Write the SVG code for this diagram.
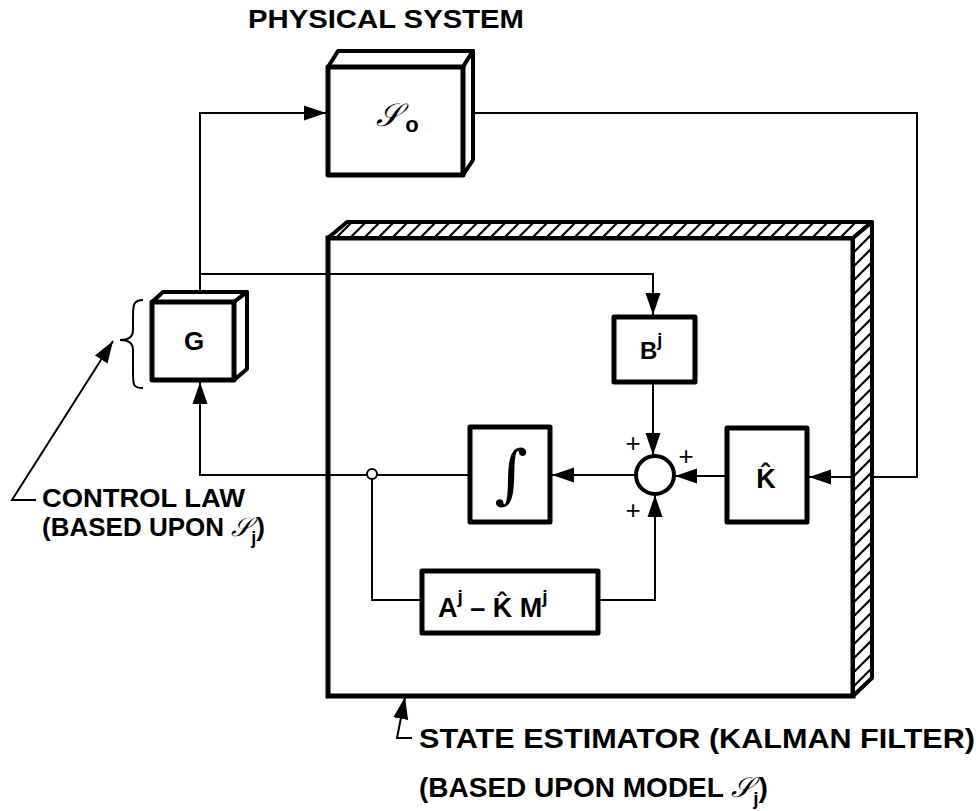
<svg xmlns="http://www.w3.org/2000/svg" width="976" height="811" viewBox="0 0 976 811">
<defs>
<style>
.box{fill:#fff;stroke:#000;stroke-width:5;stroke-linejoin:round}
.face{fill:#fff;stroke:#000;stroke-width:4;stroke-linejoin:round}
.hatch{fill:url(#hp);stroke:#000;stroke-width:4;stroke-linejoin:round}
.ln{fill:none;stroke:#000;stroke-width:2}
.t{font-family:"Liberation Sans",Arial,sans-serif;font-weight:bold;fill:#000}
.s{font-family:"DejaVu Serif","DejaVu Sans","Noto Sans",serif;font-style:italic;fill:#000}
.p{font-family:"Liberation Sans",Arial,sans-serif;font-size:26px;fill:#000;text-anchor:middle}
</style>
<pattern id="hp" patternUnits="userSpaceOnUse" width="14" height="14">
<rect width="14" height="14" fill="#fff"/>
<path d="M-2,16 L16,-2 M-6,6 L6,-6 M8,20 L20,8" stroke="#000" stroke-width="2.2"/>
</pattern>
<marker id="ar" markerUnits="userSpaceOnUse" markerWidth="24" markerHeight="18" refX="22" refY="9" orient="auto">
<path d="M0,1.5 L22,9 L0,16.5 Z" fill="#000"/>
</marker>
</defs>
<rect width="976" height="811" fill="#fff"/>

<g id="connectors">
<path class="ln" d="M200,292 V113 H326" marker-end="url(#ar)"/>
<path class="ln" d="M200,274 H653 V315" marker-end="url(#ar)"/>
<path class="ln" d="M473,113 H917 V477 H809" marker-end="url(#ar)"/>
<path class="ln" d="M653,384 V455" marker-end="url(#ar)"/>
<path class="ln" d="M727,476 H675" marker-end="url(#ar)"/>
<path class="ln" d="M636,475 H552" marker-end="url(#ar)"/>
<path class="ln" d="M470,475 H200 V382" marker-end="url(#ar)"/>
<path class="ln" d="M372,479 V600 H422"/>
<path class="ln" d="M598,600 H655 V495" marker-end="url(#ar)"/>
<path class="ln" d="M36,500 H12 L113,341" marker-end="url(#ar)"/>
<path class="ln" d="M412,738 H397 L405,697" marker-end="url(#ar)"/>
</g>

<g id="state-estimator">
<rect x="328" y="238" width="525" height="458" fill="none" stroke="#000" stroke-width="5"/>
<polygon class="hatch" points="328,238 347,222 872,222 853,238"/>
<polygon class="hatch" points="853,238 872,222 872,678 853,696"/>
<text class="t" x="419" y="748" font-size="28" textLength="556" lengthAdjust="spacingAndGlyphs">STATE ESTIMATOR (KALMAN FILTER)</text>
<text class="t" x="419" y="797" font-size="28">(BASED UPON MODEL <tspan class="s" font-weight="normal">𝒮</tspan><tspan font-size="19" dy="8">j</tspan><tspan dy="-8">)</tspan></text>
</g>

<g id="physical-system">
<text class="t" x="386" y="28" font-size="26" text-anchor="middle" textLength="276" lengthAdjust="spacingAndGlyphs">PHYSICAL SYSTEM</text>
<polygon class="face" points="328,67 338,51 473,51 463,67"/>
<polygon class="face" points="463,67 473,51 473,160 463,175"/>
<rect class="box" x="328" y="67" width="135" height="108"/>
<text class="s" x="388" y="126" font-size="32" text-anchor="middle">𝒮</text>
<text class="t" x="412" y="132" font-size="22" text-anchor="middle">o</text>
</g>

<g id="G">
<polygon class="face" points="152,302 163,292 247,292 234,302"/>
<polygon class="face" points="234,302 247,292 247,369 234,380"/>
<rect class="box" x="152" y="302" width="82" height="78"/>
<text class="t" x="194" y="350" font-size="26" text-anchor="middle">G</text>
<path class="ln" d="M143,300 C133,300 133,305 133,318 V330 C133,337 128,340 120,340 C128,340 133,343 133,350 V372 C133,385 133,388 143,388"/>
<text class="t" x="42" y="507" font-size="26" textLength="203" lengthAdjust="spacingAndGlyphs">CONTROL LAW</text>
<text class="t" x="42" y="536" font-size="26">(BASED UPON <tspan class="s" font-weight="normal">𝒮</tspan><tspan font-size="18" dy="8">j</tspan><tspan dy="-8">)</tspan></text>
</g>

<g id="B">
<rect class="box" x="614" y="317" width="81" height="65"/>
<text class="t" x="640" y="359" font-size="24">B<tspan font-size="18" dy="-13">j</tspan></text>
</g>

<g id="sum">
<circle cx="655" cy="475" r="19" fill="#fff" stroke="#000" stroke-width="4"/>
<text class="p" x="633" y="452">+</text>
<text class="p" x="686" y="465">+</text>
<text class="p" x="633" y="519">+</text>
</g>

<g id="K">
<rect class="box" x="727" y="428" width="80" height="94"/>
<text class="t" x="766" y="488" font-size="27" text-anchor="middle">K̂</text>
</g>

<g id="integrator">
<rect class="box" x="470" y="427" width="80" height="95"/>
<text x="511" y="496" font-size="64" text-anchor="middle" font-family="DejaVu Serif, serif" font-style="italic" fill="#000">∫</text>
</g>

<g id="junction">
<circle cx="372" cy="474" r="5" fill="#fff" stroke="#000" stroke-width="2"/>
</g>

<g id="A">
<rect class="box" x="422" y="571" width="176" height="62"/>
<text class="t" x="438" y="617" font-size="27">A<tspan font-size="19" dy="-14">j</tspan><tspan dy="14"> – K̂ M</tspan><tspan font-size="19" dy="-14">j</tspan></text>
</g>
</svg>
